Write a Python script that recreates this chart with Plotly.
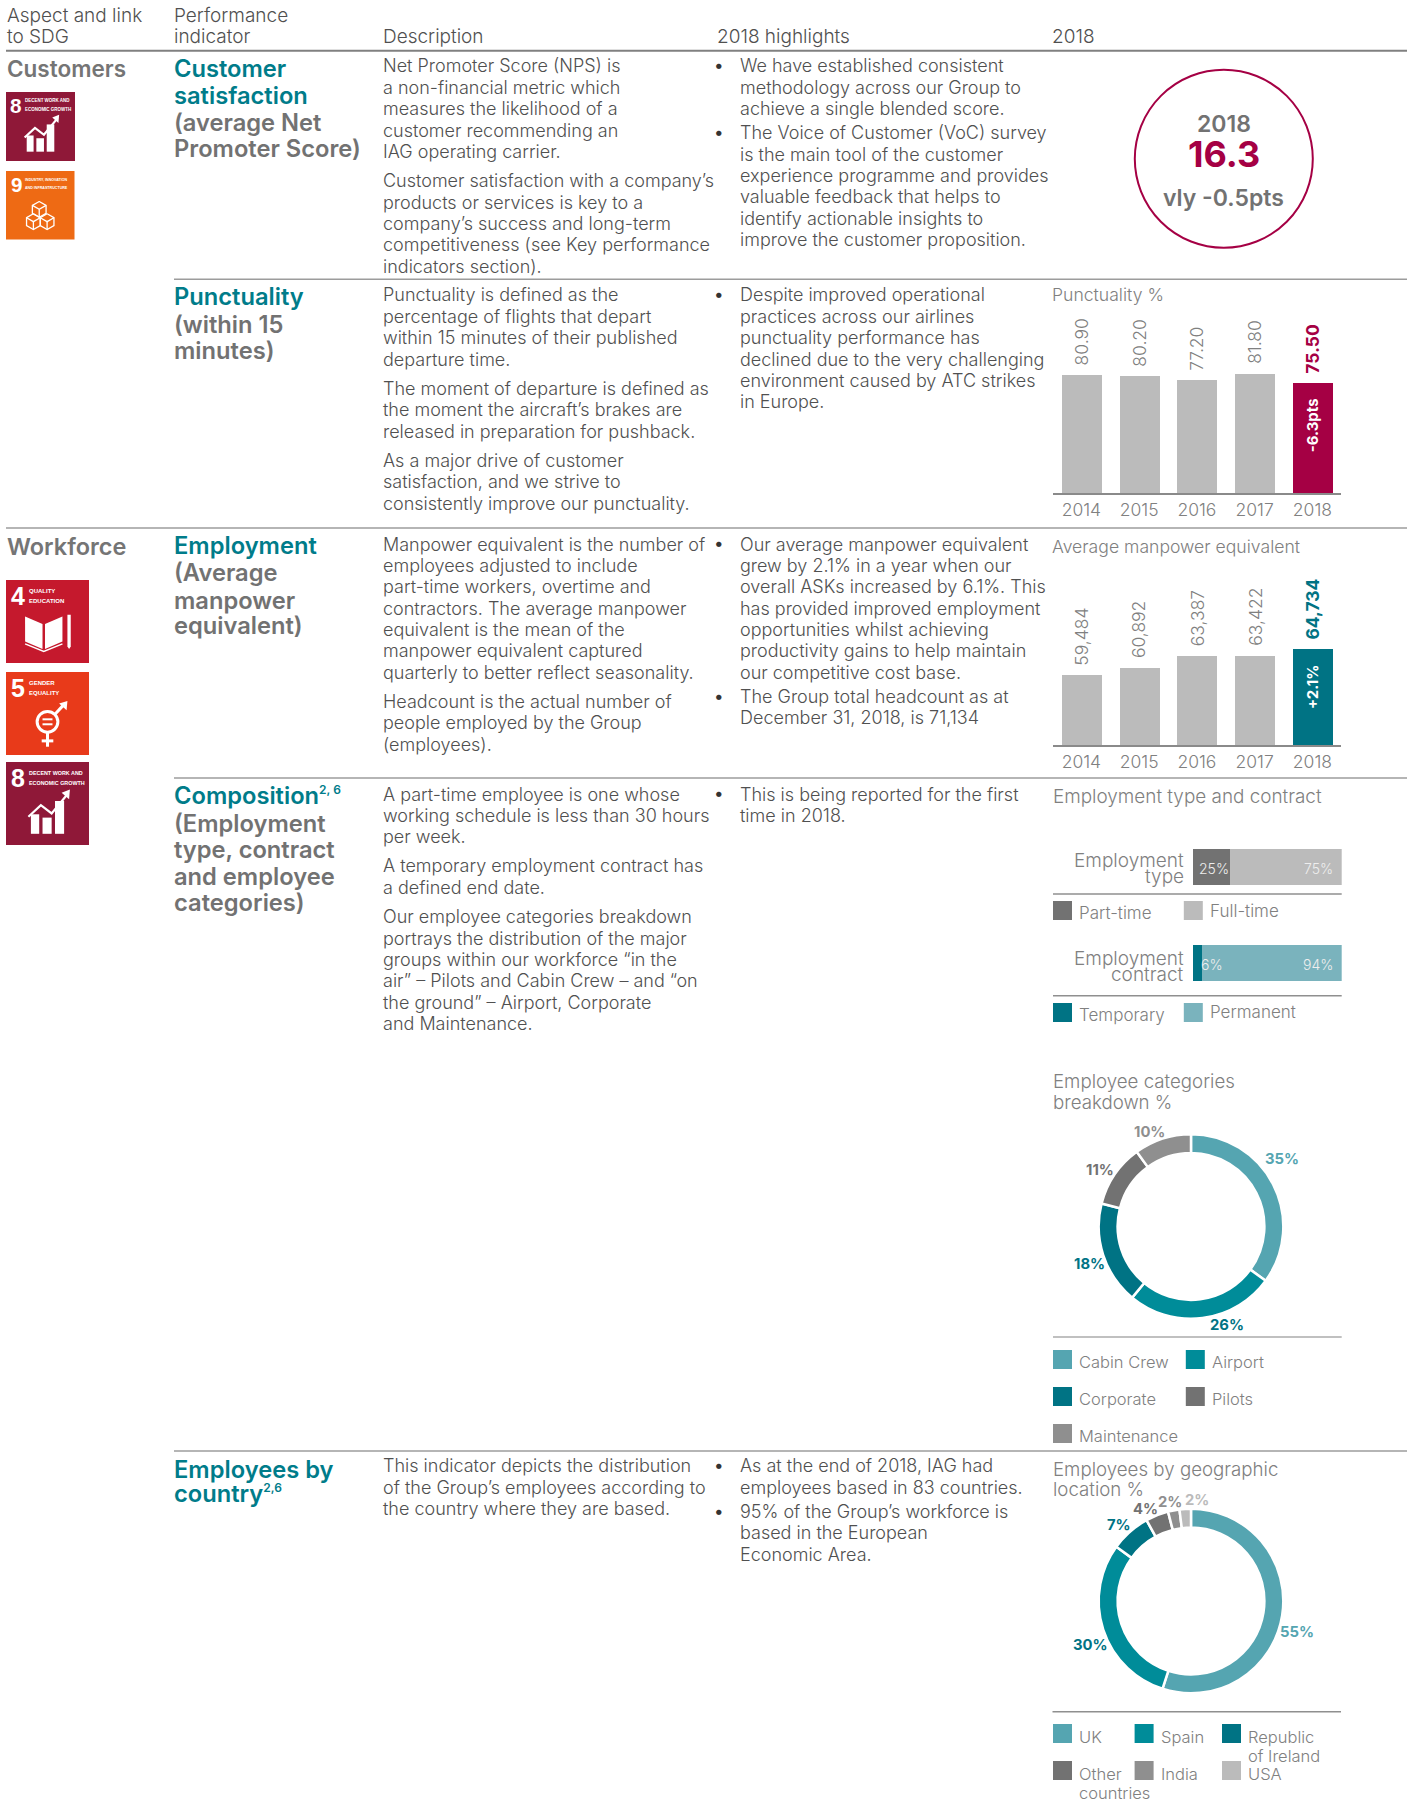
import plotly.graph_objects as go

W, H = 1407, 1807
FONT = "Inter"
NARROW = "Liberation Sans"

# ---------- data ----------
YEARS = ["2014", "2015", "2016", "2017", "2018"]
PUNCTUALITY = [80.90, 80.20, 77.20, 81.80, 75.50]
MANPOWER = [59484, 60892, 63387, 63422, 64734]
EMP_ROWS = ["Employment type", "Employment contract"]
EMP_FIRST = [25, 6]
EMP_SECOND = [75, 94]
CATEGORY_NAMES = ["Cabin Crew", "Airport", "Corporate", "Pilots", "Maintenance"]
CATEGORY_VALUES = [35, 26, 18, 11, 10]
COUNTRY_NAMES = ["UK", "Spain", "Republic of Ireland", "Other countries", "India", "USA"]
COUNTRY_VALUES = [55, 30, 7, 4, 2, 2]

# ---------- texts ----------
DESC_CUSTOMERS = [["Net Promoter Score (NPS) is", "a non-financial metric which", "measures the likelihood of a",
                   "customer recommending an", "IAG operating carrier."],
                  ["Customer satisfaction with a company’s", "products or services is key to a",
                   "company’s success and long-term", "competitiveness (see Key performance",
                   "indicators section)."]]
DESC_PUNCT = [["Punctuality is defined as the", "percentage of flights that depart",
               "within 15 minutes of their published", "departure time."],
              ["The moment of departure is defined as", "the moment the aircraft’s brakes are",
               "released in preparation for pushback."],
              ["As a major drive of customer", "satisfaction, and we strive to",
               "consistently improve our punctuality."]]
DESC_EMPLOY = [["Manpower equivalent is the number of", "employees adjusted to include",
                "part-time workers, overtime and", "contractors. The average manpower",
                "equivalent is the mean of the", "manpower equivalent captured",
                "quarterly to better reflect seasonality."],
               ["Headcount is the actual number of", "people employed by the Group", "(employees)."]]
DESC_COMPOSITION = [["A part-time employee is one whose", "working schedule is less than 30 hours", "per week."],
                    ["A temporary employment contract has", "a defined end date."],
                    ["Our employee categories breakdown", "portrays the distribution of the major",
                     "groups within our workforce “in the", "air” – Pilots and Cabin Crew – and “on",
                     "the ground” – Airport, Corporate", "and Maintenance."]]
DESC_COUNTRY = [["This indicator depicts the distribution", "of the Group’s employees according to",
                 "the country where they are based."]]
HI_CUSTOMERS = [["We have established consistent", "methodology across our Group to", "achieve a single blended score."],
                ["The Voice of Customer (VoC) survey", "is the main tool of the customer",
                 "experience programme and provides", "valuable feedback that helps to",
                 "identify actionable insights to", "improve the customer proposition."]]
HI_PUNCT = [["Despite improved operational", "practices across our airlines", "punctuality performance has",
             "declined due to the very challenging", "environment caused by ATC strikes", "in Europe."]]
HI_EMPLOY = [["Our average manpower equivalent", "grew by 2.1% in a year when our", "overall ASKs increased by 6.1%. This",
              "has provided improved employment", "opportunities whilst achieving",
              "productivity gains to help maintain", "our competitive cost base."],
             ["The Group total headcount as at", "December 31, 2018, is 71,134"]]
HI_COMPOSITION = [["This is being reported for the first", "time in 2018."]]
HI_COUNTRY = [["As at the end of 2018, IAG had", "employees based in 83 countries."],
              ["95% of the Group’s workforce is", "based in the European", "Economic Area."]]

# ---------- colours ----------
GREY_BAR = "#bbbbbb"
CRIMSON = "#a50044"
TEAL = "#007384"
TITLE_TEAL = "#007c8a"
BODY = "#505050"
MUTED = "#808080"
DARKGREY = "#727272"
MIDGREY = "#8f8f8f"
LIGHTBLUE = "#55a5b1"
MIDTEAL = "#008c99"
PERM = "#7ab3bd"
CATEGORY_COLORS = [LIGHTBLUE, MIDTEAL, TEAL, DARKGREY, MIDGREY]
COUNTRY_COLORS = [LIGHTBLUE, MIDTEAL, TEAL, DARKGREY, MIDGREY, GREY_BAR]
CATEGORY_LABEL_COLORS = [LIGHTBLUE, TEAL, TEAL, DARKGREY, MIDGREY]
COUNTRY_LABEL_COLORS = [LIGHTBLUE, TEAL, TEAL, DARKGREY, MIDGREY, GREY_BAR]


def px(x):
    return x / W


def py(y):
    return 1 - y / H


annotations = []
shapes = []


def label(text, x, y, size=18, color=BODY, weight=300, anchor="left", angle=0, family=FONT):
    annotations.append(dict(text=text, x=px(x), y=py(y), xref="paper", yref="paper", showarrow=False,
                            xanchor=anchor, yanchor="middle", align=anchor, textangle=angle, borderpad=0, borderwidth=0,
                            font=dict(family=family, size=size, color=color, weight=weight)))


def hline(y, x0, x1, color="#9c9c9c", width=1.5):
    shapes.append(dict(type="line", xref="paper", yref="paper", x0=px(x0), x1=px(x1), y0=py(y), y1=py(y),
                       line=dict(color=color, width=width)))


def rect(x0, y0, x1, y1, color):
    shapes.append(dict(type="rect", xref="paper", yref="paper", x0=px(x0), x1=px(x1), y0=py(y0), y1=py(y1),
                       fillcolor=color, line=dict(width=0), layer="below"))


def block(paragraphs, x, y0, pitch=21.35, gap=29.3, bullet=False):
    y = y0
    for p, lines in enumerate(paragraphs):
        if bullet:
            label("•", 719, y - 1, size=17, color="#333333", weight=400, anchor="center")
        for i, line in enumerate(lines):
            label(line, x, y)
            y += pitch if i < len(lines) - 1 else 0
        y += gap


def swatch(x, y, color, text_lines, tx, ty, pitch=19.5, size=16.5):
    rect(x, y, x + 19, y + 19, color)
    for i, t in enumerate(text_lines):
        label(t, tx - 1, ty - 0.5 + i * pitch, size=size, color=MUTED)


def path(points, x, y, s, closed=False):
    d = " ".join(("M" if i == 0 else "L") + f"{px(x + a * s):.5f},{py(y + b * s):.5f}" for i, (a, b) in enumerate(points))
    return d + (" Z" if closed else "")


def draw(points, x, y, s, fill=False, width=1.5):
    shapes.append(dict(type="path", xref="paper", yref="paper", path=path(points, x, y, s, closed=fill),
                       fillcolor="white" if fill else "rgba(0,0,0,0)",
                       line=dict(color="white", width=0 if fill else width)))


def icon_chart(x, y, s):
    for a, b, t in [(.30, .40, .63), (.44, .55, .67), (.59, .70, .47)]:
        draw([(a, t), (b, t), (b, .865), (a, .865)], x, y, s, fill=True)
    draw([(.27, .66), (.42, .52), (.55, .62), (.73, .40)], x, y, s, width=2.2)
    draw([(.67, .37), (.77, .33), (.76, .45)], x, y, s, fill=True)


def icon_cubes(x, y, s):
    r, h = .115, .10
    for cx, cy in [(.485, .56), (.40, .74), (.60, .74)]:
        hexa = [(cx, cy - r), (cx + h, cy - r / 2), (cx + h, cy + r / 2), (cx, cy + r), (cx - h, cy + r / 2), (cx - h, cy - r / 2)]
        draw(hexa + [hexa[0]], x, y, s, width=1.3)
        draw([(cx - h, cy - r / 2), (cx, cy), (cx + h, cy - r / 2)], x, y, s, width=1.3)
        draw([(cx, cy), (cx, cy + r)], x, y, s, width=1.3)


def icon_book(x, y, s):
    draw([(.23, .44), (.44, .53), (.44, .83), (.23, .74)], x, y, s, fill=True)
    draw([(.47, .53), (.68, .44), (.68, .74), (.47, .83)], x, y, s, fill=True)
    draw([(.23, .77), (.455, .86), (.68, .77)], x, y, s, width=1.5)
    draw([(.74, .42), (.78, .42), (.78, .80), (.76, .83), (.74, .80)], x, y, s, fill=True)


def icon_gender(x, y, s):
    cx, cy, r = .50, .60, .125
    shapes.append(dict(type="circle", xref="paper", yref="paper", x0=px(x + (cx - r) * s), x1=px(x + (cx + r) * s),
                       y0=py(y + (cy + r) * s), y1=py(y + (cy - r) * s), fillcolor="rgba(0,0,0,0)",
                       line=dict(color="white", width=3)))
    for yy in (.57, .63):
        draw([(.44, yy), (.56, yy)], x, y, s, width=2)
    draw([(.50, .73), (.50, .90)], x, y, s, width=3)
    draw([(.43, .83), (.57, .83)], x, y, s, width=3)
    draw([(.59, .51), (.70, .39)], x, y, s, width=3)
    draw([(.64, .38), (.74, .35), (.73, .46)], x, y, s, fill=True)


def sdg(x, y, s, color, number, captions, icon, caption_size, caption_x=.275):
    rect(x, y, x + s, y + s, color)
    k = s / 83
    label(number, x + .15 * s, y + .195 * s, size=25 * k, color="white", weight=700, anchor="center", family=NARROW)
    for t, yy in zip(captions, (.13, .25)):
        label(t, x + caption_x * s, y + yy * s, size=caption_size * k, color="white", weight=700, family=NARROW)
    icon(x, y, s)


# ---------- rules ----------
hline(50.7, 6, 1407, color="#808080", width=2)
hline(279.3, 174, 1407)
hline(528, 6, 1407)
hline(778, 174, 1407)
hline(1451, 174, 1407)

# ---------- headers ----------
HEAD = 19
label("Aspect and link", 7, 15.7, size=HEAD)
label("to SDG", 7, 36.8, size=HEAD)
label("Performance", 174, 15.7, size=HEAD)
label("indicator", 174, 36.8, size=HEAD)
label("Description", 382.5, 36.8, size=HEAD)
label("2018 highlights", 717, 36.8, size=HEAD)
label("2018", 1052, 36.8, size=HEAD)

label("Customers", 7, 68.3, size=22.5, color="#757575", weight=600)
label("Workforce", 7, 546, size=23.5, color="#757575", weight=600)

# ---------- indicator column ----------
KPI = 23.7
SUP = '<sup><span style="font-size:12px">{}</span></sup>'
for text, y, c in [("Customer", 68, TITLE_TEAL), ("satisfaction", 95.7, TITLE_TEAL), ("(average Net", 122.7, DARKGREY),
                   ("Promoter Score)", 148.3, DARKGREY),
                   ("Punctuality", 296.5, TITLE_TEAL), ("(within 15", 324, DARKGREY), ("minutes)", 350.3, DARKGREY),
                   ("Employment", 545.5, TITLE_TEAL), ("(Average", 572.7, DARKGREY), ("manpower", 600, DARKGREY),
                   ("equivalent)", 626, DARKGREY),
                   ("Composition" + SUP.format("2, 6"), 795, TITLE_TEAL), ("(Employment", 823, DARKGREY),
                   ("type, contract", 849, DARKGREY), ("and employee", 876, DARKGREY), ("categories)", 902, DARKGREY),
                   ("Employees by", 1469, TITLE_TEAL), ("country" + SUP.format("2,6"), 1493, TITLE_TEAL)]:
    label(text, 174, y, size=KPI, color=c, weight=600)

# ---------- description and highlight columns ----------
block(DESC_CUSTOMERS, 382.5, 66)
block(DESC_PUNCT, 382.5, 295)
block(DESC_EMPLOY, 382.5, 544)
block(DESC_COMPOSITION, 382.5, 794)
block(DESC_COUNTRY, 382.5, 1465.7)
block(HI_CUSTOMERS, 739.5, 66, gap=24.2, bullet=True)
block(HI_PUNCT, 739.5, 295, bullet=True)
block(HI_EMPLOY, 739.5, 544, gap=24.5, bullet=True)
block(HI_COMPOSITION, 739.5, 794, bullet=True)
block(HI_COUNTRY, 739.5, 1465.7, gap=24.5, bullet=True)

# ---------- SDG tiles ----------
sdg(6, 92, 69, "#8f1838", "8", ["DECENT WORK AND", "ECONOMIC GROWTH"], icon_chart, 5.4)
sdg(6, 171, 68.5, "#ee6a14", "9", ["INDUSTRY, INNOVATION", "AND INFRASTRUCTURE"], icon_cubes, 4.4)
sdg(6, 580, 83, "#c5192d", "4", ["QUALITY", "EDUCATION"], icon_book, 6.0)
sdg(6, 672, 83, "#e83a1a", "5", ["GENDER", "EQUALITY"], icon_gender, 6.0)
sdg(6, 762, 83, "#8f1838", "8", ["DECENT WORK AND", "ECONOMIC GROWTH"], icon_chart, 5.4)

# ---------- score circle ----------
shapes.append(dict(type="circle", xref="paper", yref="paper", x0=px(1223.8 - 89), x1=px(1223.8 + 89),
                   y0=py(158.8 + 89), y1=py(158.8 - 89), line=dict(color=CRIMSON, width=2), fillcolor="rgba(0,0,0,0)"))
label("2018", 1223.8, 124.3, size=23, color=DARKGREY, weight=600, anchor="center")
label("16.3", 1223.8, 154.3, size=36, color=CRIMSON, weight=700, anchor="center")
label("vly -0.5pts", 1223.8, 197.7, size=23, color=DARKGREY, weight=600, anchor="center")

# ---------- chart titles ----------
label("Punctuality %", 1052, 294.3, size=17.6, color=MUTED)
label("Average manpower equivalent", 1052, 546, size=17.6, color=MUTED)
label("Employment type and contract", 1052.5, 796.7, size=18.9, color=MUTED)
label("Employee categories", 1052.5, 1081, size=18.7, color=MUTED)
label("breakdown %", 1052.5, 1102, size=18.7, color=MUTED)
label("Employees by geographic", 1052.5, 1469.3, size=18.7, color=MUTED)
label("location %", 1052.5, 1489.3, size=18.7, color=MUTED)

fig = go.Figure()

# ---------- column charts ----------
COL_X0, COL_X1 = 1052.5, 1341.3


def column_axes(n, y_top, y_base, y_range):
    fig.update_layout({
        f"xaxis{n}": dict(domain=[px(COL_X0), px(COL_X1)], anchor=f"y{n}", type="category", showgrid=False,
                          range=[-0.5, len(YEARS) - 0.5],
                          showline=True, linecolor="#8a8a8a", linewidth=1.5, ticks="", zeroline=False,
                          ticklabelstandoff=0, tickfont=dict(family=FONT, size=17.5, color=MUTED, weight=300)),
        f"yaxis{n}": dict(domain=[py(y_base), py(y_top)], anchor=f"x{n}", range=y_range, visible=False,
                          showgrid=False, zeroline=False),
    })


def column_trace(n, values, accent):
    colors = [GREY_BAR] * (len(values) - 1) + [accent]
    fig.add_trace(go.Bar(x=YEARS, y=values, xaxis=f"x{n}", yaxis=f"y{n}", marker=dict(color=colors, line=dict(width=0)),
                         width=0.692, showlegend=False, hoverinfo="x+y"))


def column_labels(n, values, texts, accent, delta, gap=8.5):
    for i, (v, t) in enumerate(zip(values, texts)):
        last = i == len(values) - 1
        annotations.append(dict(text=t, x=i, y=v, xref=f"x{n}", yref=f"y{n}", showarrow=False, textangle=-90,
                                xanchor="center", yanchor="bottom", yshift=gap, borderpad=0,
                                font=dict(family=FONT, size=17.5, color=accent if last else MUTED,
                                          weight=700 if last else 300)))
    annotations.append(dict(text=delta, x=len(values) - 1, y=values[-1], xref=f"x{n}", yref=f"y{n}", showarrow=False,
                            textangle=-90, xanchor="center", yanchor="top", yshift=-14, borderpad=0,
                            font=dict(family=FONT, size=15, color="white", weight=700)))


column_axes(2, 300, 493.3, [0, 132.2])
column_trace(2, PUNCTUALITY, CRIMSON)
column_labels(2, PUNCTUALITY, [f"{v:.2f}" for v in PUNCTUALITY], CRIMSON, "-6.3pts")

column_axes(3, 560, 745.3, [45000, 83050])
column_trace(3, MANPOWER, TEAL)
column_labels(3, MANPOWER, [f"{v:,}" for v in MANPOWER], TEAL, "+2.1%")

# ---------- stacked employment bars ----------
fig.update_layout(
    xaxis4=dict(domain=[px(1192.9), px(1341.7)], anchor="y4", range=[0, 100], visible=False, showgrid=False, zeroline=False),
    yaxis4=dict(domain=[py(1010.5), py(818.5)], anchor="x4", type="category", categoryorder="array",
                categoryarray=EMP_ROWS[::-1], visible=False, showgrid=False),
    barmode="stack",
)
for values, colors in [(EMP_FIRST, [DARKGREY, TEAL]), (EMP_SECOND, [GREY_BAR, PERM])]:
    fig.add_trace(go.Bar(x=values, y=EMP_ROWS, orientation="h", xaxis="x4", yaxis="y4", width=0.365,
                         marker=dict(color=colors, line=dict(width=0)), showlegend=False))

SMALL = 14
label(f"{EMP_FIRST[0]}%", 1214, 868.3, size=SMALL, color="#eeeeee", anchor="center")
label(f"{EMP_SECOND[0]}%", 1332.6, 868.3, size=SMALL, color="#eeeeee", anchor="right")
label(f"{EMP_FIRST[1]}%", 1201, 964.3, size=SMALL, color="#eeeeee")
label(f"{EMP_SECOND[1]}%", 1332.6, 964.3, size=SMALL, color="#eeeeee", anchor="right")
label("Employment", 1184, 860, size=19, color=MUTED, anchor="right")
label("type", 1184, 876.7, size=19, color=MUTED, anchor="right")
label("Employment", 1184, 958.3, size=19, color=MUTED, anchor="right")
label("contract", 1184, 974, size=19, color=MUTED, anchor="right")
hline(894, 1053, 1341.7, color="#8f8f8f")
hline(995.7, 1053, 1341.7, color="#8f8f8f")
swatch(1053, 901, DARKGREY, ["Part-time"], 1079.6, 913.3, size=17)
swatch(1183.8, 901, GREY_BAR, ["Full-time"], 1210.5, 911.7, size=17)
swatch(1053, 1003, TEAL, ["Temporary"], 1079.6, 1015, size=17)
swatch(1183.8, 1003, PERM, ["Permanent"], 1210.5, 1012.7, size=17)


# ---------- donuts ----------
def donut(names, values, colors, cx, cy, r=92.3):
    fig.add_trace(go.Pie(labels=names, values=values, hole=0.795, sort=False, direction="clockwise", rotation=0,
                         textinfo="none", showlegend=False,
                         marker=dict(colors=colors, line=dict(color="white", width=2.5)),
                         domain=dict(x=[px(cx - r), px(cx + r)], y=[py(cy + r), py(cy - r)])))


donut(CATEGORY_NAMES, CATEGORY_VALUES, CATEGORY_COLORS, 1191, 1226.5)
for v, c, (x, y) in zip(CATEGORY_VALUES, CATEGORY_LABEL_COLORS,
                        [(1281.8, 1158.7), (1226.7, 1324.7), (1089.7, 1264.3), (1100.4, 1169.7), (1149.6, 1131.7)]):
    label(f"{v}%", x, y, size=14.8, color=c, weight=700, anchor="center")
hline(1337, 1053, 1341.7, color="#ababab")
swatch(1053, 1350, CATEGORY_COLORS[0], [CATEGORY_NAMES[0]], 1079.6, 1362.7)
swatch(1185.8, 1350, CATEGORY_COLORS[1], [CATEGORY_NAMES[1]], 1213, 1362.7)
swatch(1053, 1387, CATEGORY_COLORS[2], [CATEGORY_NAMES[2]], 1079.6, 1399.7)
swatch(1185.8, 1387, CATEGORY_COLORS[3], [CATEGORY_NAMES[3]], 1213, 1399.7)
swatch(1053, 1424, CATEGORY_COLORS[4], [CATEGORY_NAMES[4]], 1079.6, 1436.7)

donut(COUNTRY_NAMES, COUNTRY_VALUES, COUNTRY_COLORS, 1191, 1601)
for v, c, (x, y) in zip(COUNTRY_VALUES, COUNTRY_LABEL_COLORS,
                        [(1297, 1631.7), (1090.3, 1644.7), (1118.8, 1525), (1145.6, 1509), (1170, 1501.7), (1196.9, 1500)]):
    label(f"{v}%", x, y, size=14.8, color=c, weight=700, anchor="center")
hline(1711.7, 1052.5, 1341, color="#8f8f8f")
swatch(1053, 1724, COUNTRY_COLORS[0], ["UK"], 1079.6, 1737.3)
swatch(1134.6, 1724, COUNTRY_COLORS[1], ["Spain"], 1161.7, 1737.3)
swatch(1222, 1724, COUNTRY_COLORS[2], ["Republic", "of Ireland"], 1249.2, 1737.3)
swatch(1053, 1761, COUNTRY_COLORS[3], ["Other", "countries"], 1079.6, 1774.3)
swatch(1134.6, 1761, COUNTRY_COLORS[4], ["India"], 1161.7, 1774.3)
swatch(1222, 1761, COUNTRY_COLORS[5], ["USA"], 1249.2, 1774.3)

fig.update_layout(width=W, height=H, margin=dict(l=0, r=0, t=0, b=0), paper_bgcolor="white", plot_bgcolor="white",
                  bargap=0, annotations=annotations, shapes=shapes, showlegend=False,
                  font=dict(family=FONT, color=BODY))

fig.write_html("out.html", post_script="document.body.style.margin='0';", config={"displayModeBar": False})
